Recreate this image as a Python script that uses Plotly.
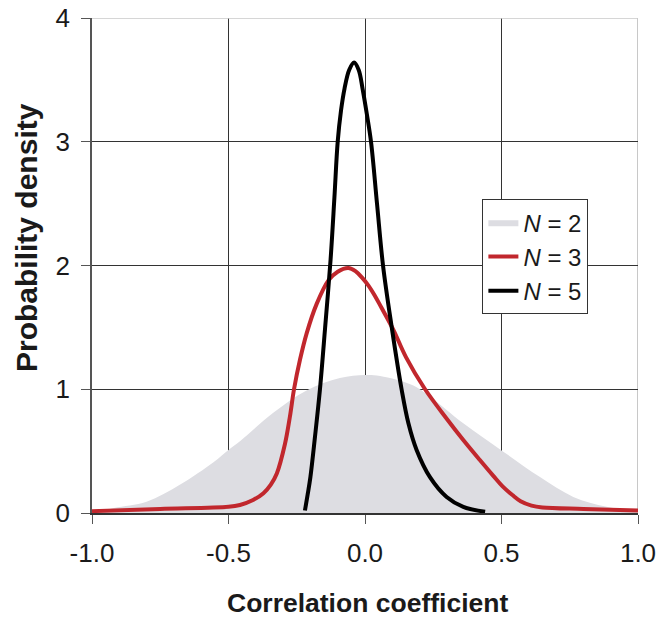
import plotly.graph_objects as go

# N = 2 (grey filled area)
n2_x = [-1.0, -0.92, -0.80, -0.677, -0.555, -0.50, -0.458, -0.336, -0.214, -0.092, 0.0, 0.055, 0.177, 0.238, 0.36, 0.504, 0.641, 0.763, 0.885, 1.0]
n2_y = [0.0, 0.04, 0.09, 0.23, 0.41, 0.51, 0.58, 0.81, 0.99, 1.09, 1.115, 1.107, 1.03, 0.94, 0.725, 0.50, 0.29, 0.13, 0.05, 0.01]

# N = 3 (red line)
n3_x = [-1.0, -0.75, -0.50, -0.458, -0.41, -0.372, -0.345, -0.323, -0.293, -0.275, -0.26, -0.238, -0.214, -0.177, -0.134, -0.10, -0.061, -0.035, -0.01, 0.012, 0.035, 0.06, 0.104, 0.15, 0.22, 0.30, 0.36, 0.42, 0.47, 0.504, 0.54, 0.57, 0.61, 0.65, 0.80, 1.0]
n3_y = [0.015, 0.033, 0.05, 0.065, 0.105, 0.16, 0.23, 0.32, 0.56, 0.78, 1.0, 1.24, 1.45, 1.69, 1.88, 1.95, 1.98, 1.955, 1.90, 1.84, 1.76, 1.66, 1.48, 1.26, 1.0, 0.76, 0.59, 0.43, 0.30, 0.215, 0.145, 0.095, 0.06, 0.045, 0.033, 0.02]

# N = 5 (black line)
n5_x = [-0.22, -0.21, -0.20, -0.183, -0.165, -0.146, -0.126, -0.112, -0.10, -0.088, -0.075, -0.058, -0.04, -0.023, -0.009, 0.007, 0.022, 0.044, 0.066, 0.098, 0.134, 0.159, 0.189, 0.238, 0.299, 0.36, 0.44]
n5_y = [0.02, 0.15, 0.29, 0.62, 1.0, 1.5, 2.05, 2.55, 3.0, 3.25, 3.43, 3.58, 3.64, 3.58, 3.43, 3.22, 3.0, 2.5, 2.0, 1.5, 1.0, 0.725, 0.51, 0.29, 0.13, 0.05, 0.01]

x_ticks = [-1.0, -0.5, 0.0, 0.5, 1.0]
x_tick_labels = ["-1.0", "-0.5", "0.0", "0.5", "1.0"]
y_ticks = [0, 1, 2, 3, 4]

font_family = "Liberation Sans, Arial, sans-serif"
txt = "#1a1a1a"

fig_w, fig_h = 663, 620
left, top, pw, ph = 92, 18, 546, 495

fig = go.Figure()
fig.add_trace(go.Scatter(
    x=n2_x, y=n2_y, mode="lines", name="<i>N</i> = 2",
    fill="tozeroy", fillcolor="#DDDDE2", line=dict(width=0, color="#DDDDE2", shape="spline", smoothing=1.0),
))
fig.add_trace(go.Scatter(
    x=n3_x, y=n3_y, mode="lines", name="<i>N</i> = 3",
    line=dict(width=4, color="#C1272D", shape="spline", smoothing=1.0),
))
fig.add_trace(go.Scatter(
    x=n5_x, y=n5_y, mode="lines", name="<i>N</i> = 5",
    line=dict(width=4, color="#000000", shape="spline", smoothing=1.0),
))

fig.update_layout(
    width=fig_w, height=fig_h,
    margin=dict(l=left, r=fig_w - left - pw, t=top, b=fig_h - top - ph),
    paper_bgcolor="white", plot_bgcolor="white",
    font=dict(family=font_family, size=26, color=txt),
    showlegend=True,
    legend=dict(
        x=0.715, y=0.634, xanchor="left", yanchor="top",
        bgcolor="white", bordercolor="#333333", borderwidth=1,
        font=dict(family=font_family, size=24, color=txt),
        itemwidth=30, tracegroupgap=0,
    ),
    xaxis=dict(
        range=[-1.0, 1.0], tickvals=x_ticks, ticktext=x_tick_labels,
        showgrid=True, gridcolor="#333333", gridwidth=1,
        zeroline=False, showline=True, linecolor="#333333", linewidth=1.5,
        ticks="outside", ticklen=9, tickcolor="#555555",
        tickfont=dict(size=26, family=font_family, color=txt),
        ticklabelstandoff=7, ticklabeloverflow="allow",
        automargin=False,
    ),
    yaxis=dict(
        range=[0, 4], tickvals=y_ticks,
        showgrid=True, gridcolor="#333333", gridwidth=1,
        zeroline=False, showline=True, linecolor="#555555", linewidth=1.5,
        ticks="outside", ticklen=9, tickcolor="#555555",
        tickfont=dict(size=26, family=font_family, color=txt),
        ticklabelstandoff=6, ticklabeloverflow="allow",
        automargin=False,
    ),
    annotations=[
        dict(
            text="<b>Probability density</b>", textangle=-90,
            xref="paper", yref="paper", x=(26 - 92) / pw, y=(513 - 238) / ph,
            xanchor="center", yanchor="middle", showarrow=False,
            font=dict(size=30, family=font_family, color=txt),
        ),
        dict(
            text="<b>Correlation coefficient</b>",
            xref="paper", yref="paper", x=(367 - 92) / pw, y=(513 - 603) / ph,
            xanchor="center", yanchor="middle", showarrow=False,
            font=dict(size=26.5, family=font_family, color=txt),
        ),
    ],
    shapes=[
        dict(type="line", xref="paper", yref="y", x0=0, x1=1, y0=4, y1=4, line=dict(color="#C8C8C8", width=1.5), layer="above"),
        dict(type="line", xref="x", yref="paper", x0=1, x1=1, y0=0, y1=1, line=dict(color="#C8C8C8", width=2), layer="below"),
    ],
)

fig.write_html(
    "out.html",
    config={"displayModeBar": False},
    post_script="document.body.style.margin='0';",
)
